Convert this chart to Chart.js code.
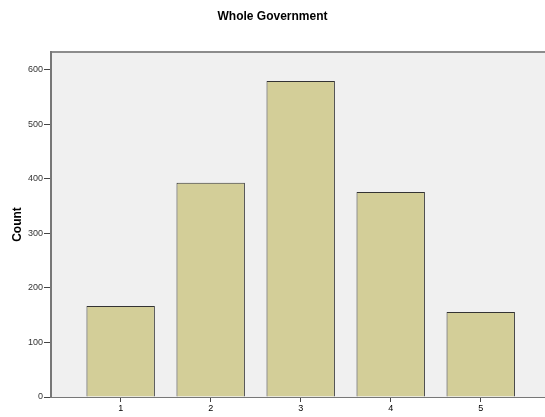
<!DOCTYPE html>
<html><head><meta charset="utf-8">
<script src="https://cdn.jsdelivr.net/npm/chart.js@4/dist/chart.umd.min.js"></script>
<style>html,body{margin:0;padding:0;background:#fff}#w{width:545px;height:417px}</style>
</head><body><div id="w"><canvas id="c"></canvas></div>
<script>
const categories = [1, 2, 3, 4, 5];
const counts = [167, 393, 580, 376, 156];
const yTicks = [0, 100, 200, 300, 400, 500, 600];
const titleText = 'Whole Government';
const yTitle = 'Count';

const bgPlugin = {
  id: 'bg',
  beforeDraw(chart) {
    const {ctx, chartArea: a} = chart;
    ctx.save();
    ctx.fillStyle = '#F0F0F0';
    ctx.fillRect(a.left, a.top, a.right - a.left, a.bottom - a.top);
    ctx.strokeStyle = '#8C8C8C';
    ctx.lineWidth = 2;
    ctx.beginPath();
    ctx.moveTo(a.left, a.top);
    ctx.lineTo(a.right, a.top);
    ctx.stroke();
    ctx.restore();
  }
};

new Chart(document.getElementById('c'), {
  type: 'bar',
  data: {
    datasets: [{
      data: categories.map((c, i) => ({x: c, y: counts[i]})),
      backgroundColor: '#D3CE98',
      borderColor: '#333333',
      borderWidth: 1,
      barPercentage: 0.76,
      categoryPercentage: 1
    }]
  },
  options: {
    responsive: true,
    maintainAspectRatio: false,
    animation: false,
    layout: {padding: {left: 0, right: 0, top: 0, bottom: 0}},
    plugins: {
      legend: {display: false},
      tooltip: {enabled: false},
      title: {
        display: true, text: titleText, color: '#000',
        font: {family: 'Liberation Sans', size: 12, weight: 'bold'},
        padding: {top: 9, bottom: 28.6}
      }
    },
    scales: {
      x: {
        type: 'linear',
        offset: false,
        min: 0.226, max: 5.714,
        afterBuildTicks(s) { s.ticks = categories.map(v => ({value: v})); },
        afterFit(s) { s.height = 20; },
        ticks: {color: '#000', font: {family: 'Liberation Sans', size: 9}, padding: 1, maxRotation: 0,
                callback: v => String(v)},
        grid: {offset: false, drawOnChartArea: false, drawTicks: true, tickLength: 5, tickColor: '#444', lineWidth: 1},
        border: {display: true, color: '#777', width: 1}
      },
      y: {
        min: 0, max: 633,
        afterBuildTicks(s) { s.ticks = yTicks.map(v => ({value: v})); },
        afterFit(s) { s.width = 51; },
        ticks: {color: '#333', font: {family: 'Liberation Sans', size: 9}, padding: 1},
        grid: {drawOnChartArea: false, drawTicks: true, tickLength: 7, tickColor: '#444', lineWidth: 1},
        border: {display: true, color: '#777', width: 2},
        title: {display: true, text: yTitle, color: '#000',
                font: {family: 'Liberation Sans', size: 12, weight: 'bold'}, padding: {top: 10, bottom: 0}}
      }
    }
  },
  plugins: [bgPlugin]
});
</script></body></html>
